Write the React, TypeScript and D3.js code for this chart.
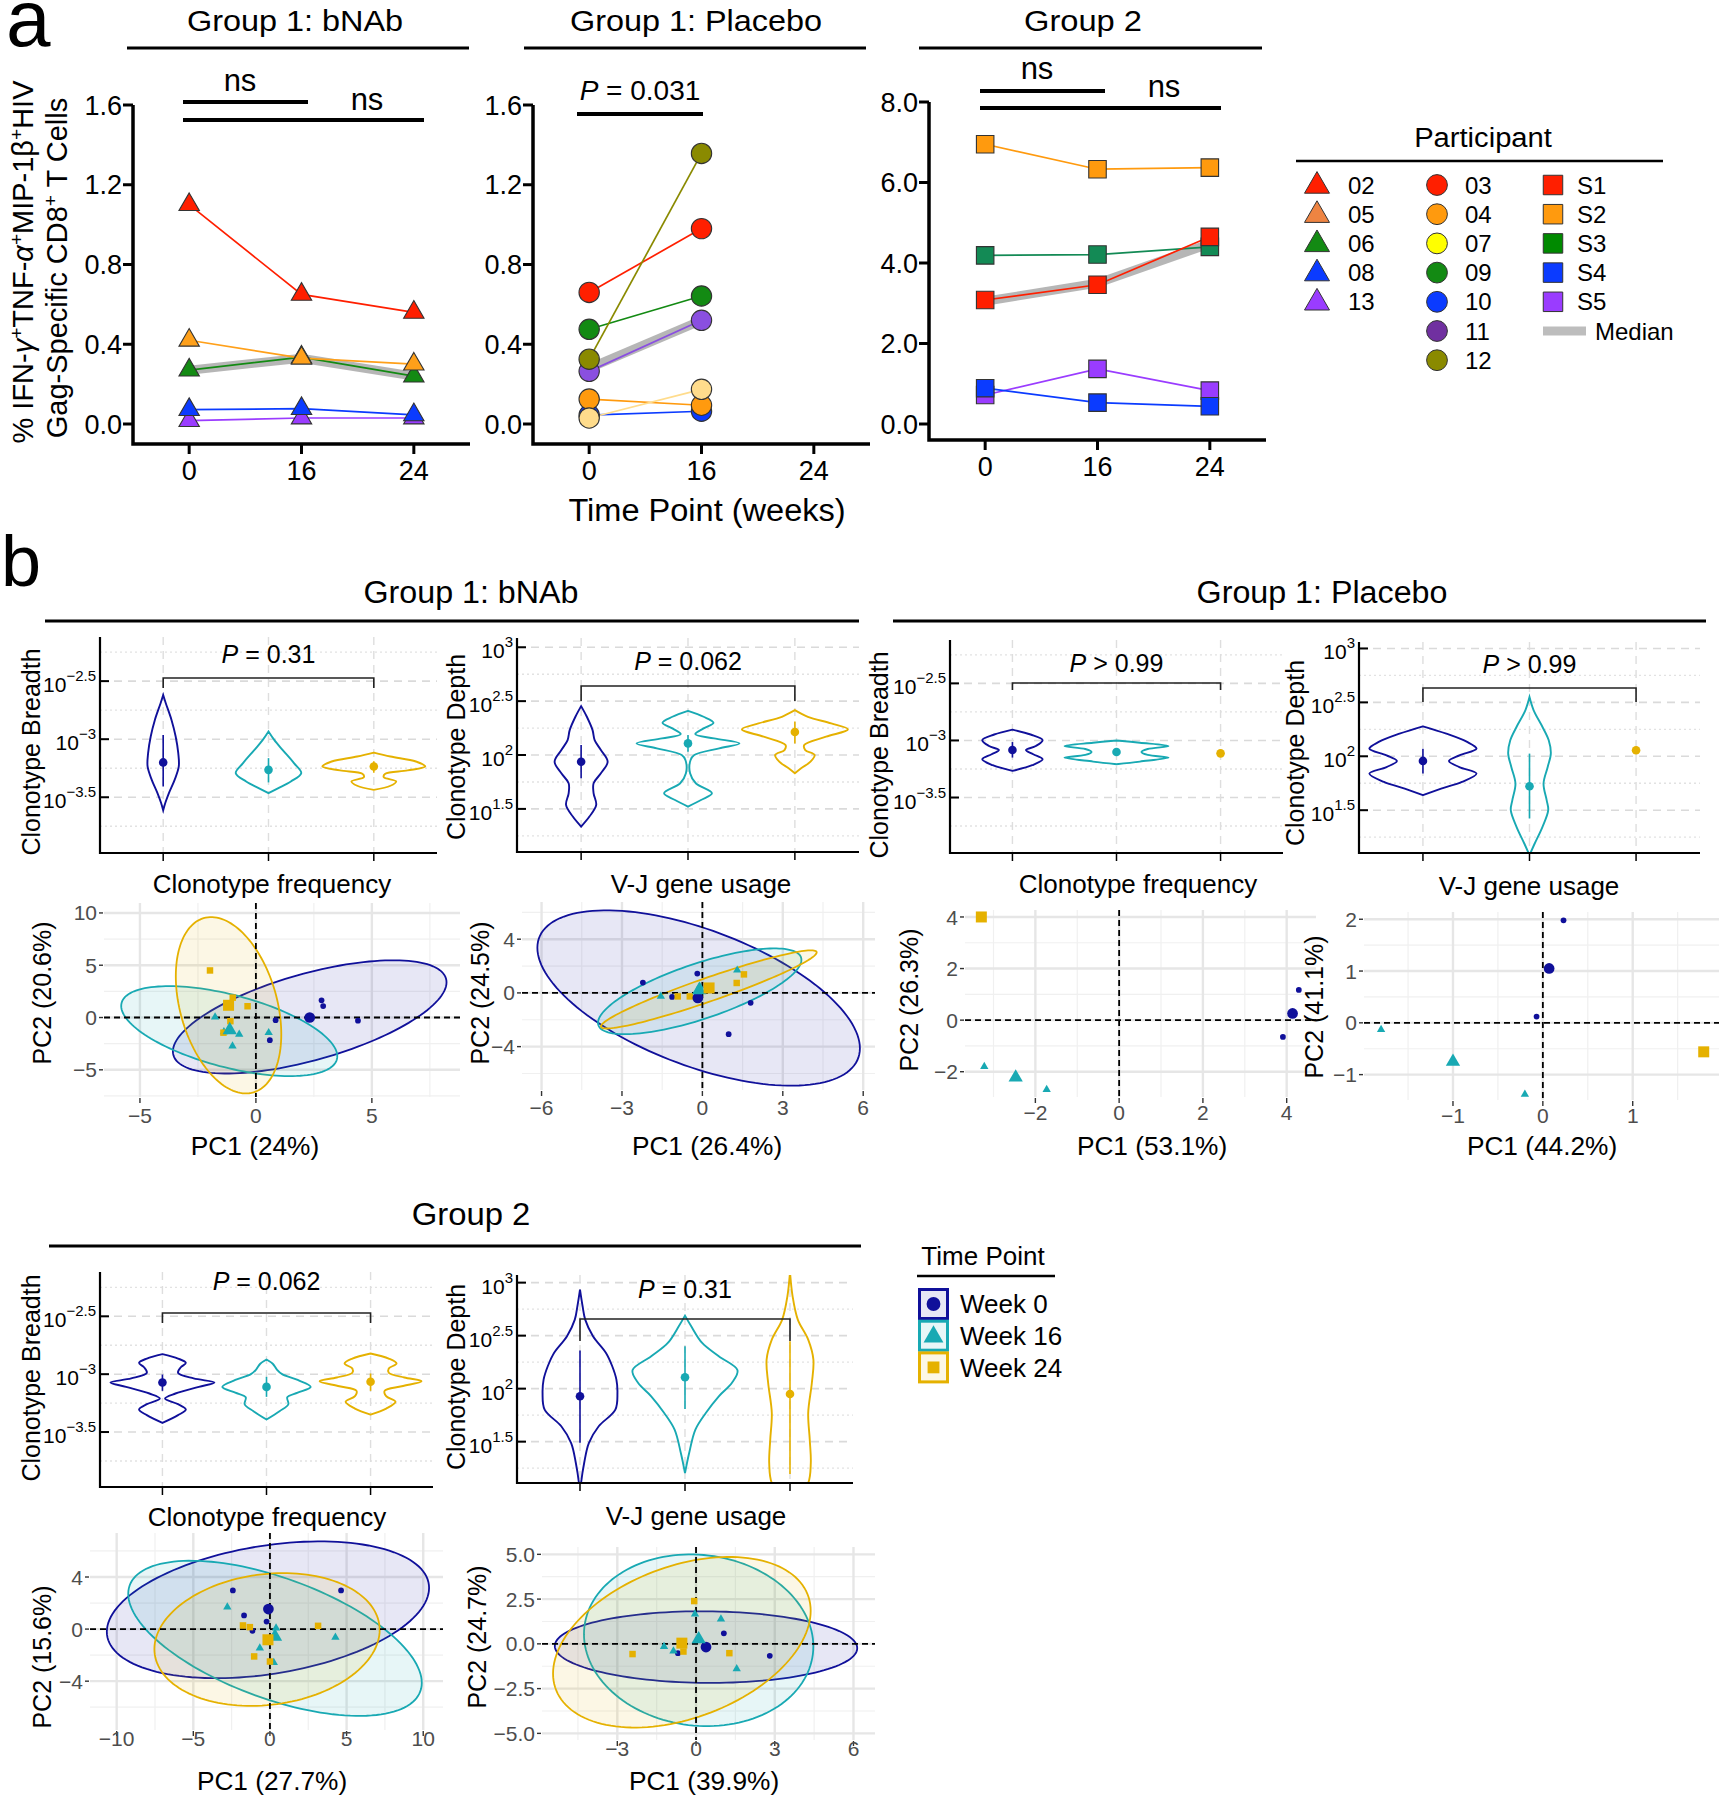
import React from "react";
import * as d3 from "d3";

type Pt = [number, number];
const FONT = "'Liberation Sans', Arial, Helvetica, sans-serif";

// ================= Panel a data =================
const weeks = ["0", "16", "24"];
const lowTicks = [0, 0.4, 0.8, 1.2, 1.6];
const highTicks = [0, 2, 4, 6, 8];

const bnabIds = ["13", "08", "06", "05", "02"];
const bnabValues = [
  [0.017, 0.03, 0.03],
  [0.072, 0.077, 0.046],
  [0.27, 0.335, 0.24],
  [0.42, 0.33, 0.3],
  [1.1, 0.65, 0.56],
];
const bnabMedian = [0.27, 0.33, 0.24];

const placeboIds = ["10", "04", "07", "09", "03", "11", "12"];
const placeboValues = [
  [0.045, 0.064],
  [0.125, 0.094],
  [0.03, 0.174],
  [0.475, 0.642],
  [0.66, 0.98],
  [0.264, 0.52],
  [0.325, 1.357],
];
const placeboMedian = [0.28, 0.52];

const group2Ids = ["S5", "S4", "S3", "S1", "S2"];
const group2Values = [
  [0.72, 1.37, 0.83],
  [0.89, 0.53, 0.44],
  [4.19, 4.21, 4.4],
  [3.08, 3.46, 4.65],
  [6.95, 6.33, 6.37],
];
const group2Median = [3.05, 3.5, 4.48];

const legendTriangleIds = ["02", "05", "06", "08", "13"];
const legendCircleIds = ["03", "04", "07", "09", "10", "11", "12"];
const legendSquareIds = ["S1", "S2", "S3", "S4", "S5"];
const weekLabels = ["Week 0", "Week 16", "Week 24"];

// ================= Panel b violin data: [log10 value, relative density] =================
const breadthTicks = [-3.5, -3, -2.5];
const depthTicks = [1.5, 2, 2.5, 3];

const bnabBreadthV0: Pt[] = [[-2.619, 0], [-2.69, 0.05], [-2.834, 0.16], [-2.977, 0.24], [-3.12, 0.29], [-3.235, 0.3], [-3.35, 0.22], [-3.464, 0.11], [-3.55, 0.04], [-3.613, 0]];
const bnabBreadthV16: Pt[] = [[-2.934, 0], [-3.006, 0.11], [-3.092, 0.27], [-3.206, 0.49], [-3.292, 0.63], [-3.364, 0.43], [-3.421, 0.19], [-3.464, 0]];
const bnabBreadthV24: Pt[] = [[-3.115, 0], [-3.149, 0.32], [-3.192, 0.81], [-3.235, 0.99], [-3.269, 0.65], [-3.298, 0.22], [-3.327, 0.19], [-3.364, 0.43], [-3.401, 0.32], [-3.436, 0]];
const bnabBreadthSummary = [[-3.2, -3.407, -2.963], [-3.264, -3.372, -3.163], [-3.235, -3.29, -3.19]];

const bnabDepthV0: Pt[] = [[2.454, 0], [2.355, 0.11], [2.231, 0.22], [2.139, 0.26], [2.046, 0.38], [1.938, 0.51], [1.83, 0.38], [1.738, 0.24], [1.645, 0.24], [1.537, 0.29], [1.429, 0.16], [1.336, 0]];
const bnabDepthV16: Pt[] = [[2.41, 0], [2.355, 0.3], [2.3, 0.49], [2.247, 0.3], [2.194, 0.14], [2.154, 0.5], [2.108, 0.99], [2.062, 0.6], [2.0, 0.12], [1.954, 0.05], [1.83, 0.04], [1.738, 0.15], [1.645, 0.46], [1.583, 0.25], [1.522, 0]];
const bnabDepthV24: Pt[] = [[2.417, 0], [2.355, 0.25], [2.293, 0.7], [2.238, 1.02], [2.17, 0.6], [2.093, 0.18], [2.046, 0.2], [2.0, 0.38], [1.938, 0.3], [1.877, 0.12], [1.83, 0]];
const bnabDepthSummary = [[1.938, 1.784, 2.093], [2.108, 2.03, 2.185], [2.213, 2.108, 2.31]];

const placeboBreadthV0: Pt[] = [[-2.905, 0], [-2.948, 0.35], [-2.997, 0.58], [-3.049, 0.45], [-3.084, 0.26], [-3.121, 0.4], [-3.165, 0.58], [-3.217, 0.38], [-3.266, 0]];
const placeboBreadthV16: Pt[] = [[-3.0, 0], [-3.02, 0.45], [-3.049, 1.0], [-3.075, 0.6], [-3.101, 0.48], [-3.127, 0.6], [-3.15, 1.0], [-3.185, 0.45], [-3.208, 0]];
const placeboBreadthSummary = [[-3.084, -3.15, -3.014], [-3.101, -3.12, -3.08], [-3.113, -3.113, -3.113]];

const placeboDepthV0: Pt[] = [[2.278, 0], [2.21, 0.45], [2.133, 0.85], [2.071, 1.03], [2.009, 0.7], [1.957, 0.5], [1.9, 0.7], [1.84, 1.03], [1.762, 0.75], [1.7, 0.35], [1.639, 0]];
const placeboDepthV16: Pt[] = [[2.549, 0], [2.426, 0.08], [2.272, 0.25], [2.148, 0.37], [2.025, 0.41], [1.901, 0.35], [1.747, 0.27], [1.593, 0.33], [1.5, 0.36], [1.346, 0.25], [1.191, 0.1], [1.083, 0]];
const placeboDepthSummary = [[1.957, 1.84, 2.071], [1.722, 1.423, 2.025], [2.056, 2.056, 2.056]];

const g2BreadthV0: Pt[] = [[-2.827, 0], [-2.865, 0.3], [-2.902, 0.45], [-2.942, 0.35], [-2.988, 0.3], [-3.037, 0.6], [-3.072, 1.0], [-3.11, 0.7], [-3.167, 0.25], [-3.21, 0.05], [-3.259, 0.3], [-3.305, 0.45], [-3.354, 0.3], [-3.421, 0]];
const g2BreadthV16: Pt[] = [[-2.873, 0], [-2.91, 0.12], [-2.96, 0.2], [-3.0, 0.3], [-3.05, 0.6], [-3.11, 0.85], [-3.16, 0.6], [-3.2, 0.4], [-3.26, 0.42], [-3.32, 0.25], [-3.392, 0]];
const g2BreadthV24: Pt[] = [[-2.821, 0], [-2.865, 0.35], [-2.908, 0.5], [-2.951, 0.35], [-2.988, 0.35], [-3.029, 0.65], [-3.061, 0.98], [-3.104, 0.6], [-3.144, 0.27], [-3.19, 0.3], [-3.239, 0.48], [-3.297, 0.3], [-3.349, 0]];
const g2BreadthSummary = [[-3.072, -3.144, -3.003], [-3.11, -3.196, -3.023], [-3.066, -3.144, -2.994]];

const g2DepthV0: Pt[] = [[2.934, 0], [2.777, 0.05], [2.651, 0.1], [2.494, 0.25], [2.336, 0.5], [2.211, 0.62], [2.085, 0.7], [1.959, 0.72], [1.802, 0.68], [1.645, 0.36], [1.487, 0.17], [1.299, 0.08], [1.11, 0.02], [1.0, 0]];
const g2DepthV16: Pt[] = [[2.689, 0], [2.588, 0.12], [2.431, 0.33], [2.305, 0.65], [2.173, 1.01], [2.053, 0.9], [1.928, 0.65], [1.77, 0.4], [1.613, 0.2], [1.393, 0.08], [1.204, 0]];
const g2DepthV24: Pt[] = [[3.1, 0], [2.871, 0.05], [2.651, 0.15], [2.462, 0.35], [2.274, 0.45], [2.053, 0.42], [1.77, 0.35], [1.519, 0.38], [1.299, 0.4], [1.11, 0.35], [0.95, 0.1]];
const g2DepthSummary = [[1.928, 1.49, 2.36], [2.107, 1.808, 2.4], [1.95, 1.195, 2.447]];

// ================= Panel b PCA data =================
const bnabFreqPoints: Pt[][] = [
  [[2.83, 1.65], [2.9, 1.1], [0.85, -0.26], [0.6, -2.17], [4.4, -0.3]],
  [[-1.76, 0.05], [-1.38, -1.37], [-0.72, -1.6], [-1.01, -2.74], [0.55, -1.45]],
  [[-1.98, 4.5], [-0.36, 1.08], [-1.0, 1.9], [-1.1, -0.35], [-1.4, -1.45]],
];
const bnabFreqCentroids: Pt[] = [[2.32, 0.0], [-1.13, -1.2], [-1.18, 1.17]];
const bnabFreqEllipses = [[2.32, 0.06, 34.8, 19.5, 29.3], [-1.15, -1.3, 21.7, -11.2, 18.5], [-1.18, 1.17, 5.17, -6.3, 71.1]];

const bnabVjPoints: Pt[][] = [
  [[-2.22, 0.77], [-1.13, -0.3], [-0.19, 1.44], [1.8, -0.74], [0.98, -3.07]],
  [[-1.55, -0.25], [1.3, 1.69], [-0.1, 0.5]],
  [[-0.92, -0.26], [-0.47, -0.26], [1.28, 0.74], [1.55, 1.38]],
];
const bnabVjCentroids: Pt[] = [[-0.17, -0.37], [-0.12, 0.2], [0.25, 0.37]];
const bnabVjEllipses = [[-0.14, -0.38, 36.2, -22.5, 42.6], [-0.1, 0.12, 14.4, 8.9, 10.2], [0.24, 0.26, 16.2, 11.1, 8.47]];

const placeboFreqPoints: Pt[][] = [[[3.91, -0.65], [4.29, 1.17]], [[-3.22, -1.8], [-1.73, -2.69]], []];
const placeboFreqCentroids: Pt[] = [[4.14, 0.26], [-2.47, -2.22], [-3.29, 4.0]];

const placeboVjPoints: Pt[][] = [[[0.23, 1.98], [-0.07, 0.12]], [[-1.8, -0.13], [-0.2, -1.38]], []];
const placeboVjCentroids: Pt[] = [[0.07, 1.05], [-1.0, -0.75], [1.79, -0.56]];

const g2FreqPoints: Pt[][] = [
  [[-2.42, 2.97], [4.64, 2.97], [-1.69, 1.05], [-1.14, -0.13], [-0.22, 0.58]],
  [[-2.78, 1.69], [0.4, 0.08], [4.27, -0.64], [-0.66, -1.46], [0.25, -2.57]],
  [[-1.76, 0.28], [-1.31, 0.15], [3.14, 0.25], [-1.03, -2.1], [0.0, -2.49]],
];
const g2FreqCentroids: Pt[] = [[-0.1, 1.54], [0.33, -0.57], [-0.13, -0.82]];
const g2FreqEllipses = [[-0.13, 1.48, 110.5, 17.7, 27.6], [0.33, -0.71, 91.7, -32.7, 35.5], [-0.19, -0.8, 54, 5.4, 26]];

const g2VjPoints: Pt[][] = [
  [[-0.69, -0.52], [1.06, 0.59], [2.81, -0.67]],
  [[-1.22, -0.15], [0.95, 1.39], [1.55, -1.39], [-0.04, 1.66], [-0.86, -0.4]],
  [[-0.07, 2.39], [-2.42, -0.57], [-0.48, -0.43], [1.27, -0.52]],
];
const g2VjCentroids: Pt[] = [[0.38, -0.18], [0.1, 0.26], [-0.54, 0.04]];
const g2VjEllipses = [[0.38, -0.18, 33.2, -0.34, 4.0], [0.1, 0.2, 19.1, -1.5, 23], [-0.54, 0.09, 24.1, 8.6, 22.7]];

// ================= styles =================
const pointColor: Record<string, string> = {
  "02": "#ff1f00", "05": "#ffa01a", "06": "#138a13", "08": "#0b3bff", "13": "#9a3cff",
  "03": "#ff1f00", "04": "#ff9a0e", "07": "#ffdc8c", "09": "#138a13", "10": "#0b3bff", "11": "#8a4fe0", "12": "#8a8a00",
  S1: "#ff1f00", S2: "#ff9a0e", S3: "#138a55", S4: "#0b3bff", S5: "#9a3cff",
};
const legendColor: Record<string, string> = { ...pointColor, "05": "#ee8442", "07": "#ffff00", "11": "#7030a0", S3: "#008a00" };
const weekColors = ["#10109a", "#18a9b3", "#e5b100"];
const weekShapes = [d3.symbolCircle, d3.symbolTriangle, d3.symbolSquare];
const smallSizes = [26, 30, 42];
const largeSizes = [90, 88, 121];

function sym(type: d3.SymbolType, size: number) {
  return d3.symbol().type(type).size(size)() as string;
}

// stretched text helper
function ST(p: any) {
  const { x, y, sx = 1, size, anchor = "middle", children, ...rest } = p;
  return (
    <text transform={`translate(${x},${y}) scale(${sx},1)`} fontSize={size} textAnchor={anchor} {...rest}>
      {children}
    </text>
  );
}

// ================= Panel a chart =================
function Trajectory(p: any) {
  const { x0, x1, yTop, yZero, yBase, maxV, ticks, fmt, ids, values, median, shape, msize } = p;
  const x = d3.scalePoint<string>().domain(weeks).range([x0, x1]).padding(0.5);
  const y = d3.scaleLinear().domain([0, maxV]).range([yZero, yTop]);
  const line = d3.line<number>().x((_, i) => x(weeks[i]) as number).y((v) => y(v));
  const marker = sym(shape, msize);
  return (
    <g>
      <path d={line(median) as string} fill="none" stroke="#a9a9a9" strokeOpacity={0.85} strokeWidth={9} />
      {ids.map((id: string, k: number) => (
        <path key={"l" + id} d={line(values[k]) as string} fill="none" stroke={pointColor[id]} strokeWidth={1.7} />
      ))}
      {ids.map((id: string, k: number) =>
        values[k].map((v: number, i: number) => (
          <path key={id + "-" + i} d={marker} transform={`translate(${x(weeks[i])},${y(v)})`} fill={pointColor[id]} stroke="#333" strokeWidth={1.1} />
        ))
      )}
      <path d={`M${x0},${yTop}V${yBase}H${x1}`} fill="none" stroke="#000" strokeWidth={3.5} />
      {ticks.map((t: number) => (
        <g key={"t" + t}>
          <line x1={x0 - 10} x2={x0} y1={y(t)} y2={y(t)} stroke="#000" strokeWidth={3} />
          <text x={x0 - 11} y={y(t)} dy="0.36em" textAnchor="end" fontSize={27}>{fmt(t)}</text>
        </g>
      ))}
      {weeks.map((w) => (
        <g key={"w" + w}>
          <line x1={x(w)} x2={x(w)} y1={yBase} y2={yBase + 10} stroke="#000" strokeWidth={3} />
          <text x={x(w)} y={yBase + 36} textAnchor="middle" fontSize={27}>{w}</text>
        </g>
      ))}
    </g>
  );
}

// ================= Violin panel =================
function ViolinPanel(p: any) {
  const { id, x0, x1, y0, y1, domain, ticks, violins, summary, pLabel, pY, bracketY, bracketBottom, ylab, ylabX, ylabY } = p;
  const x = d3.scalePoint<string>().domain(weeks).range([x0, x1]).padding(0.6);
  const y = d3.scaleLinear().domain(domain).range([y1, y0]);
  const minor = d3.range(ticks[0] - 0.25, ticks[ticks.length - 1] + 0.5, 0.5).filter((v: number) => v > domain[0] && v < domain[1]);
  const MH = 52;
  const fmtExp = (v: number) => String(v).replace("-", "\u2212");
  const xa = x(weeks[0]) as number;
  const xc = x(weeks[2]) as number;
  return (
    <g>
      <clipPath id={id}>
        <rect x={x0} y={y0} width={x1 - x0} height={y1 - y0} />
      </clipPath>
      {minor.map((v: number) => (
        <line key={"m" + v} x1={x0} x2={x1} y1={y(v)} y2={y(v)} stroke="#e2e2e2" strokeWidth={1.4} strokeDasharray="2,3" />
      ))}
      {ticks.map((v: number) => (
        <line key={"g" + v} x1={x0} x2={x1} y1={y(v)} y2={y(v)} stroke="#dadada" strokeWidth={1.6} strokeDasharray="8,6" />
      ))}
      {weeks.map((w) => (
        <line key={"v" + w} x1={x(w)} x2={x(w)} y1={y0} y2={y1} stroke="#dedede" strokeWidth={1.4} strokeDasharray="8,6" />
      ))}
      <g clipPath={`url(#${id})`}>
        {violins.map((v: Pt[] | null, i: number) => {
          if (!v) return null;
          const cx = x(weeks[i]) as number;
          const area = d3
            .area<Pt>()
            .y((d) => y(d[0]))
            .x0((d) => cx - d[1] * MH)
            .x1((d) => cx + d[1] * MH)
            .curve(d3.curveCatmullRom.alpha(0.5));
          return <path key={"vi" + i} d={area(v) as string} fill="none" stroke={weekColors[i]} strokeWidth={1.9} />;
        })}
      </g>
      {summary.map((s: number[], i: number) => (
        <g key={"s" + i}>
          <line x1={x(weeks[i])} x2={x(weeks[i])} y1={y(s[1])} y2={y(s[2])} stroke={weekColors[i]} strokeWidth={1.6} />
          <circle cx={x(weeks[i])} cy={y(s[0])} r={4.3} fill={weekColors[i]} />
        </g>
      ))}
      <path d={`M${xa},${bracketBottom}V${bracketY}H${xc}V${bracketBottom}`} fill="none" stroke="#222" strokeWidth={1.6} />
      <text x={(xa + xc) / 2} y={pY} textAnchor="middle" fontSize={25}>
        <tspan fontStyle="italic">P</tspan>
        {pLabel}
      </text>
      <path d={`M${x0},${y0}V${y1}H${x1}`} fill="none" stroke="#000" strokeWidth={2.2} />
      {ticks.map((t: number) => (
        <g key={"yt" + t}>
          <line x1={x0} x2={x0 + 9} y1={y(t)} y2={y(t)} stroke="#000" strokeWidth={2} />
          <text x={x0 - 4} y={y(t) + 11} textAnchor="end" fontSize={21}>
            10<tspan dy={-11} fontSize={15}>{fmtExp(t)}</tspan>
          </text>
        </g>
      ))}
      {weeks.map((w) => (
        <line key={"xt" + w} x1={x(w)} x2={x(w)} y1={y1} y2={y1 + 8} stroke="#000" strokeWidth={1.5} />
      ))}
      <text transform={`translate(${ylabX},${ylabY}) rotate(-90)`} textAnchor="middle" dy="0.36em" fontSize={25}>{ylab}</text>
    </g>
  );
}

// ================= PCA panel =================
function ellipsePts(e: number[], n = 140): Pt[] {
  const [cx, cy, sxx, sxy, syy] = e;
  const a = Math.sqrt(sxx);
  const b = sxy / a;
  const c = Math.sqrt(Math.max(syy - b * b, 1e-6));
  return d3.range(n).map((i) => {
    const t = (2 * Math.PI * i) / n;
    return [cx + a * Math.cos(t), cy + b * Math.cos(t) + c * Math.sin(t)] as Pt;
  });
}

function PcaPanel(p: any) {
  const { x0, x1, y0, y1, xDomain, yDomain, xTicks, yTicks, xMinor, yMinor, yFmt, points, centroids, ellipses, title, titleX, titleY, xlab, xlabX, xlabY, ylab, ylabX, ylabY, xTickY } = p;
  const x = d3.scaleLinear().domain(xDomain).range([x0, x1]);
  const y = d3.scaleLinear().domain(yDomain).range([y1, y0]);
  const ln = d3.line<Pt>().x((d) => x(d[0])).y((d) => y(d[1])).curve(d3.curveLinearClosed);
  const xf = d3.format("d");
  return (
    <g>
      {xMinor.map((v: number) => <line key={"xm" + v} x1={x(v)} x2={x(v)} y1={y0} y2={y1} stroke="#f0f0f0" strokeWidth={1.2} />)}
      {yMinor.map((v: number) => <line key={"ym" + v} x1={x0} x2={x1} y1={y(v)} y2={y(v)} stroke="#f0f0f0" strokeWidth={1.2} />)}
      {xTicks.map((v: number) => <line key={"xg" + v} x1={x(v)} x2={x(v)} y1={y0} y2={y1} stroke="#e6e6e6" strokeWidth={2.4} />)}
      {yTicks.map((v: number) => <line key={"yg" + v} x1={x0} x2={x1} y1={y(v)} y2={y(v)} stroke="#e6e6e6" strokeWidth={2.4} />)}
      {ellipses.map((e: number[], i: number) => (
        <path key={"e" + i} d={ln(ellipsePts(e)) as string} fill={weekColors[i]} fillOpacity={0.1} stroke={weekColors[i]} strokeWidth={1.8} />
      ))}
      <line x1={x0} x2={x1} y1={y(0)} y2={y(0)} stroke="#000" strokeWidth={1.8} strokeDasharray="6,4" />
      <line x1={x(0)} x2={x(0)} y1={y0} y2={y1} stroke="#000" strokeWidth={1.8} strokeDasharray="6,4" />
      {points.map((arr: Pt[], i: number) =>
        arr.map((d: Pt, j: number) => (
          <path key={"p" + i + "-" + j} d={sym(weekShapes[i], smallSizes[i])} transform={`translate(${x(d[0])},${y(d[1])})`} fill={weekColors[i]} />
        ))
      )}
      {centroids.map((d: Pt, i: number) => (
        <path key={"c" + i} d={sym(weekShapes[i], largeSizes[i])} transform={`translate(${x(d[0])},${y(d[1])})`} fill={weekColors[i]} />
      ))}
      {xTicks.map((v: number) => (
        <g key={"xt" + v}>
          <line x1={x(v)} x2={x(v)} y1={y1 + 1} y2={y1 + 6} stroke="#333" strokeWidth={1.4} />
          <text x={x(v)} y={xTickY} textAnchor="middle" fontSize={21} fill="#4d4d4d">{xf(v)}</text>
        </g>
      ))}
      {yTicks.map((v: number) => (
        <g key={"yt" + v}>
          <line x1={x0 - 5} x2={x0 - 1} y1={y(v)} y2={y(v)} stroke="#333" strokeWidth={1.4} />
          <text x={x0 - 7} y={y(v)} dy="0.36em" textAnchor="end" fontSize={21} fill="#4d4d4d">{yFmt(v)}</text>
        </g>
      ))}
      <ST x={titleX} y={titleY} size={25} sx={1.04}>{title}</ST>
      <ST x={xlabX} y={xlabY} size={25} sx={1.05}>{xlab}</ST>
      <text transform={`translate(${ylabX},${ylabY}) rotate(-90)`} textAnchor="middle" dy="0.36em" fontSize={25}>{ylab}</text>
    </g>
  );
}

// ================= App =================
export default function App() {
  const f1 = d3.format(".1f");
  const fInt = d3.format("d");
  const legendRow = (i: number) => 185 + i * 29.2;
  return (
    <svg width={1723} height={1800} viewBox="0 0 1723 1800" style={{ position: "absolute", left: 0, top: 0 }} fontFamily={FONT}>
      <rect width={1723} height={1800} fill="#fff" />

      {/* ---------- panel a ---------- */}
      <text x={6} y={46} fontSize={80}>a</text>
      <ST x={295} y={31} size={30} sx={1.08}>Group 1: bNAb</ST>
      <ST x={696} y={31} size={30} sx={1.08}>Group 1: Placebo</ST>
      <ST x={1083} y={31} size={30} sx={1.09}>Group 2</ST>
      <line x1={127} x2={469} y1={48} y2={48} stroke="#000" strokeWidth={3} />
      <line x1={524} x2={866} y1={48} y2={48} stroke="#000" strokeWidth={3} />
      <line x1={919} x2={1262} y1={48} y2={48} stroke="#000" strokeWidth={3} />

      <text transform="translate(23,262) rotate(-90)" textAnchor="middle" dy="0.36em" fontSize={29}>
        % IFN-<tspan fontStyle="italic">γ</tspan>
        <tspan dy={-10} fontSize={19}>+</tspan>
        <tspan dy={10}>TNF-</tspan>
        <tspan fontStyle="italic">α</tspan>
        <tspan dy={-10} fontSize={19}>+</tspan>
        <tspan dy={10}>MIP-1β</tspan>
        <tspan dy={-10} fontSize={19}>+</tspan>
        <tspan dy={10}>HIV</tspan>
      </text>
      <text transform="translate(57,268) rotate(-90)" textAnchor="middle" dy="0.36em" fontSize={29}>
        Gag-Specific CD8<tspan dy={-10} fontSize={19}>+</tspan>
        <tspan dy={10}> T Cells</tspan>
      </text>

      <Trajectory x0={133} x1={470} yTop={105} yZero={424} yBase={444} maxV={1.6} ticks={lowTicks} fmt={f1}
        ids={bnabIds} values={bnabValues} median={bnabMedian} shape={d3.symbolTriangle} msize={180} />
      <Trajectory x0={533} x1={870} yTop={105} yZero={424} yBase={444} maxV={1.6} ticks={lowTicks} fmt={f1}
        ids={placeboIds} values={placeboValues} median={placeboMedian} shape={d3.symbolCircle} msize={325} />
      <Trajectory x0={929} x1={1266} yTop={102} yZero={424} yBase={440} maxV={8} ticks={highTicks} fmt={f1}
        ids={group2Ids} values={group2Values} median={group2Median} shape={d3.symbolSquare} msize={306} />

      {/* significance annotations */}
      <line x1={183} x2={308} y1={102} y2={102} stroke="#000" strokeWidth={4} />
      <line x1={183} x2={424} y1={120} y2={120} stroke="#000" strokeWidth={4} />
      <text x={240} y={91} textAnchor="middle" fontSize={31}>ns</text>
      <text x={367} y={110} textAnchor="middle" fontSize={31}>ns</text>
      <line x1={577} x2={703} y1={114} y2={114} stroke="#000" strokeWidth={4} />
      <text x={640} y={100} textAnchor="middle" fontSize={28}>
        <tspan fontStyle="italic">P</tspan> = 0.031
      </text>
      <line x1={980} x2={1105} y1={91} y2={91} stroke="#000" strokeWidth={4} />
      <line x1={980} x2={1221} y1={108} y2={108} stroke="#000" strokeWidth={4} />
      <text x={1037} y={79} textAnchor="middle" fontSize={31}>ns</text>
      <text x={1164} y={97} textAnchor="middle" fontSize={31}>ns</text>

      <ST x={707} y={521} size={31} sx={1.05}>Time Point (weeks)</ST>

      {/* participant legend */}
      <ST x={1483} y={147} size={27} sx={1.08}>Participant</ST>
      <line x1={1296} x2={1663} y1={161} y2={161} stroke="#000" strokeWidth={2.5} />
      {legendTriangleIds.map((id, i) => (
        <g key={"lt" + id}>
          <path d={sym(d3.symbolTriangle, 270)} transform={`translate(1317,${legendRow(i) + 1})`} fill={legendColor[id]} stroke="#333" strokeWidth={1} />
          <text x={1348} y={legendRow(i)} dy="0.36em" fontSize={24}>{id}</text>
        </g>
      ))}
      {legendCircleIds.map((id, i) => (
        <g key={"lc" + id}>
          <path d={sym(d3.symbolCircle, 340)} transform={`translate(1437,${legendRow(i)})`} fill={legendColor[id]} stroke="#333" strokeWidth={1} />
          <text x={1465} y={legendRow(i)} dy="0.36em" fontSize={24}>{id}</text>
        </g>
      ))}
      {legendSquareIds.map((id, i) => (
        <g key={"ls" + id}>
          <path d={sym(d3.symbolSquare, 380)} transform={`translate(1553,${legendRow(i)})`} fill={legendColor[id]} stroke="#333" strokeWidth={1} />
          <text x={1577} y={legendRow(i)} dy="0.36em" fontSize={24}>{id}</text>
        </g>
      ))}
      <line x1={1543} x2={1586} y1={legendRow(5)} y2={legendRow(5)} stroke="#bdbdbd" strokeWidth={9} />
      <text x={1595} y={legendRow(5)} dy="0.36em" fontSize={24}>Median</text>

      {/* ---------- panel b ---------- */}
      <text x={1} y={586} fontSize={72}>b</text>
      <ST x={471} y={603} size={31} sx={1.04}>Group 1: bNAb</ST>
      <line x1={45} x2={859} y1={621} y2={621} stroke="#000" strokeWidth={3} />
      <ST x={1322} y={603} size={31} sx={1.04}>Group 1: Placebo</ST>
      <line x1={893} x2={1706} y1={621} y2={621} stroke="#000" strokeWidth={3} />
      <ST x={471} y={1225} size={31} sx={1.06}>Group 2</ST>
      <line x1={49} x2={861} y1={1246} y2={1246} stroke="#000" strokeWidth={3} />

      <ViolinPanel id="vb1" x0={100} x1={437} y0={637} y1={853} domain={[-3.98, -2.12]} ticks={breadthTicks}
        violins={[bnabBreadthV0, bnabBreadthV16, bnabBreadthV24]} summary={bnabBreadthSummary}
        pLabel=" = 0.31" pY={663} bracketY={678} bracketBottom={688} ylab="Clonotype Breadth" ylabX={31} ylabY={752} />
      <ViolinPanel id="vb2" x0={517} x1={859} y0={638} y1={852} domain={[1.1, 3.086]} ticks={depthTicks}
        violins={[bnabDepthV0, bnabDepthV16, bnabDepthV24]} summary={bnabDepthSummary}
        pLabel=" = 0.062" pY={670} bracketY={686} bracketBottom={701} ylab="Clonotype Depth" ylabX={456} ylabY={747} />
      <ViolinPanel id="vb3" x0={950} x1={1283} y0={640} y1={853} domain={[-3.986, -2.12]} ticks={breadthTicks}
        violins={[placeboBreadthV0, placeboBreadthV16, null]} summary={placeboBreadthSummary}
        pLabel=" > 0.99" pY={672} bracketY={683} bracketBottom={690} ylab="Clonotype Breadth" ylabX={879} ylabY={755} />
      <ViolinPanel id="vb4" x0={1359} x1={1700} y0={642} y1={853} domain={[1.103, 3.06]} ticks={depthTicks}
        violins={[placeboDepthV0, placeboDepthV16, null]} summary={placeboDepthSummary}
        pLabel=" > 0.99" pY={673} bracketY={688} bracketBottom={702} ylab="Clonotype Depth" ylabX={1295} ylabY={753} />
      <ViolinPanel id="vb5" x0={100} x1={433} y0={1272} y1={1487} domain={[-3.975, -2.117]} ticks={breadthTicks}
        violins={[g2BreadthV0, g2BreadthV16, g2BreadthV24]} summary={g2BreadthSummary}
        pLabel=" = 0.062" pY={1290} bracketY={1313} bracketBottom={1323} ylab="Clonotype Breadth" ylabX={31} ylabY={1378} />
      <ViolinPanel id="vb6" x0={517} x1={853} y0={1275} y1={1483} domain={[1.11, 3.072]} ticks={depthTicks}
        violins={[g2DepthV0, g2DepthV16, g2DepthV24]} summary={g2DepthSummary}
        pLabel=" = 0.31" pY={1298} bracketY={1319} bracketBottom={1341} ylab="Clonotype Depth" ylabX={456} ylabY={1377} />

      <PcaPanel x0={104} x1={460} y0={903} y1={1097} xDomain={[-6.55, 8.8]} yDomain={[-7.6, 10.95]}
        xTicks={[-5, 0, 5]} yTicks={[-5, 0, 5, 10]} xMinor={[-2.5, 2.5, 7.5]} yMinor={[-7.5, -2.5, 2.5, 7.5]} yFmt={fInt}
        points={bnabFreqPoints} centroids={bnabFreqCentroids} ellipses={bnabFreqEllipses}
        title="Clonotype frequency" titleX={272} titleY={893} xlab="PC1 (24%)" xlabX={255} xlabY={1155}
        ylab="PC2 (20.6%)" ylabX={42} ylabY={993} xTickY={1123} />
      <PcaPanel x0={522} x1={875} y0={902} y1={1090} xDomain={[-6.73, 6.44]} yDomain={[-7.23, 6.77]}
        xTicks={[-6, -3, 0, 3, 6]} yTicks={[-4, 0, 4]} xMinor={[-4.5, -1.5, 1.5, 4.5]} yMinor={[-6, -2, 2, 6]} yFmt={fInt}
        points={bnabVjPoints} centroids={bnabVjCentroids} ellipses={bnabVjEllipses}
        title="V-J gene usage" titleX={701} titleY={893} xlab="PC1 (26.4%)" xlabX={707} xlabY={1155}
        ylab="PC2 (24.5%)" ylabX={480} ylabY={993} xTickY={1115} />
      <PcaPanel x0={965} x1={1316} y0={910} y1={1097} xDomain={[-3.68, 4.7]} yDomain={[-2.98, 4.27]}
        xTicks={[-2, 0, 2, 4]} yTicks={[-2, 0, 2, 4]} xMinor={[-3, -1, 1, 3]} yMinor={[-1, 1, 3]} yFmt={fInt}
        points={placeboFreqPoints} centroids={placeboFreqCentroids} ellipses={[]}
        title="Clonotype frequency" titleX={1138} titleY={893} xlab="PC1 (53.1%)" xlabX={1152} xlabY={1155}
        ylab="PC2 (26.3%)" ylabX={909} ylabY={1000} xTickY={1120} />
      <PcaPanel x0={1364} x1={1719} y0={912} y1={1100} xDomain={[-1.99, 1.96]} yDomain={[-1.49, 2.14]}
        xTicks={[-1, 0, 1]} yTicks={[-1, 0, 1, 2]} xMinor={[-1.5, -0.5, 0.5, 1.5]} yMinor={[-0.5, 0.5, 1.5]} yFmt={fInt}
        points={placeboVjPoints} centroids={placeboVjCentroids} ellipses={[]}
        title="V-J gene usage" titleX={1529} titleY={895} xlab="PC1 (44.2%)" xlabX={1542} xlabY={1155}
        ylab="PC2 (41.1%)" ylabX={1314} ylabY={1007} xTickY={1123} />
      <PcaPanel x0={90} x1={443} y0={1533} y1={1730} xDomain={[-11.74, 11.29]} yDomain={[-7.75, 7.38]}
        xTicks={[-10, -5, 0, 5, 10]} yTicks={[-4, 0, 4]} xMinor={[-7.5, -2.5, 2.5, 7.5]} yMinor={[-6, -2, 2, 6]} yFmt={fInt}
        points={g2FreqPoints} centroids={g2FreqCentroids} ellipses={g2FreqEllipses}
        title="Clonotype frequency" titleX={267} titleY={1526} xlab="PC1 (27.7%)" xlabX={272} xlabY={1790}
        ylab="PC2 (15.6%)" ylabX={42} ylabY={1657} xTickY={1746} />
      <PcaPanel x0={542} x1={875} y0={1547} y1={1740} xDomain={[-5.87, 6.82]} yDomain={[-5.37, 5.41]}
        xTicks={[-3, 0, 3, 6]} yTicks={[-5, -2.5, 0, 2.5, 5]} xMinor={[-4.5, -1.5, 1.5, 4.5]} yMinor={[-3.75, -1.25, 1.25, 3.75]} yFmt={f1}
        points={g2VjPoints} centroids={g2VjCentroids} ellipses={g2VjEllipses}
        title="V-J gene usage" titleX={696} titleY={1525} xlab="PC1 (39.9%)" xlabX={704} xlabY={1790}
        ylab="PC2 (24.7%)" ylabX={477} ylabY={1637} xTickY={1756} />

      {/* time point legend */}
      <text x={983} y={1265} textAnchor="middle" fontSize={26}>Time Point</text>
      <line x1={917} x2={1055} y1={1276} y2={1276} stroke="#000" strokeWidth={2.5} />
      {weekLabels.map((lab, i) => {
        const cy = 1304 + i * 31.7;
        return (
          <g key={"tl" + i}>
            <rect x={919.5} y={cy - 14.5} width={28} height={29} fill={weekColors[i]} fillOpacity={0.1} stroke={weekColors[i]} strokeWidth={3} />
            <path d={sym(weekShapes[i], [150, 170, 140][i])} transform={`translate(933.5,${cy + (i === 1 ? 1 : 0)})`} fill={weekColors[i]} />
            <text x={960} y={cy} dy="0.36em" fontSize={26}>{lab}</text>
          </g>
        );
      })}
    </svg>
  );
}
